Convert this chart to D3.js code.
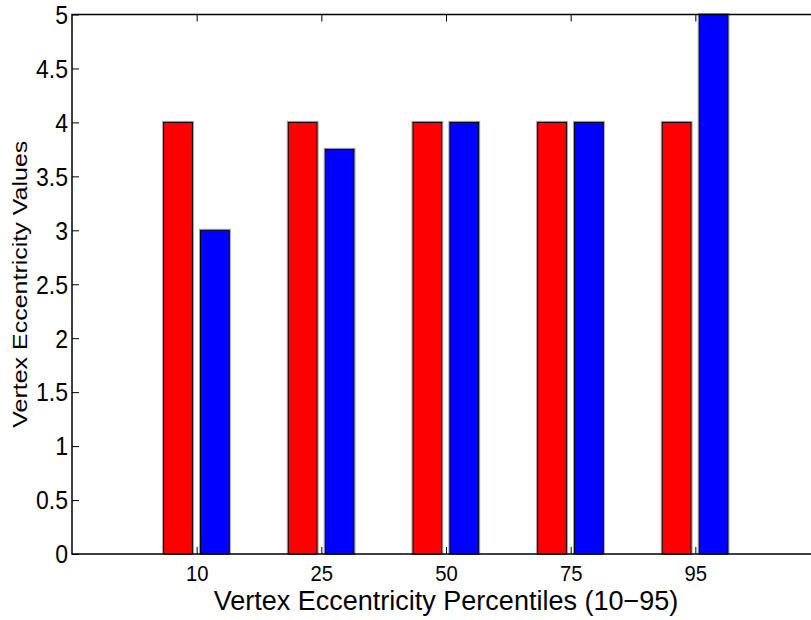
<!DOCTYPE html>
<html>
<head>
<meta charset="utf-8">
<script src="https://cdn.jsdelivr.net/npm/d3@7"></script>
<style>
  html, body { margin: 0; padding: 0; background: #fff; }
  svg { display: block; }
  text { font-family: "Liberation Sans", Arial, Helvetica, sans-serif; fill: #000; }
</style>
</head>
<body>
<svg id="chart" width="811" height="620"></svg>
<script>
// Percentile categories and the two series plotted at each one
const categories = ["10", "25", "50", "75", "95"];
const redValues  = [4, 4, 4, 4, 4];
const blueValues = [3, 3.75, 4, 4, 5];
const yTicks = [0, 0.5, 1, 1.5, 2, 2.5, 3, 3.5, 4, 4.5, 5];
const xTitle = "Vertex Eccentricity Percentiles (10\u221295)";
const yTitle = "Vertex Eccentricity Values";

const svg = d3.select("#chart");
const margin = { left: 72, top: 14.5, right: 820, bottom: 554 };

// Categories sit at positions 1..n on a 0..n+1 axis
const x = d3.scaleLinear().domain([0, categories.length + 1]).range([margin.left, margin.right]);
const y = d3.scaleLinear().domain([0, 5]).range([margin.bottom, margin.top]);
const step = x(1) - x(0);

// Side-by-side bars inside each group
const inner = d3.scaleBand().domain(["red", "blue"])
  .range([-0.265 * step, 0.262 * step]).paddingInner(0.22);

const series = [
  { key: "red", values: redValues, color: "#ff0000" },
  { key: "blue", values: blueValues, color: "#0000ff" }
];

const bars = svg.append("g");
series.forEach(s => {
  const g = bars.append("g");
  // faint grey halo around each bar edge
  g.selectAll("rect.halo").data(s.values).join("rect")
    .attr("class", "halo")
    .attr("x", (d, i) => x(i + 1) + inner(s.key) - 1)
    .attr("y", d => y(d) - 1)
    .attr("width", inner.bandwidth() + 2)
    .attr("height", d => y(0) - y(d) + 1)
    .attr("fill", "none")
    .attr("stroke", "#a0a0a0")
    .attr("stroke-width", 1);
  g.selectAll("rect.bar").data(s.values).join("rect")
    .attr("class", "bar")
    .attr("x", (d, i) => x(i + 1) + inner(s.key))
    .attr("y", d => y(d))
    .attr("width", inner.bandwidth())
    .attr("height", d => y(0) - y(d))
    .attr("fill", s.color)
    .attr("stroke", "#000")
    .attr("stroke-width", 1);
});

const tickLen = 7;
const sx = 0.92;

// Left axis with inward ticks
const yAxis = d3.axisRight(y).tickValues(yTicks).tickSize(tickLen).tickFormat(d3.format("~g"));
const gy = svg.append("g").attr("transform", `translate(${margin.left},0)`).call(yAxis);
gy.select(".domain").remove();
gy.selectAll(".tick line").attr("stroke", "#000");
gy.selectAll(".tick text")
  .attr("x", null).attr("dy", null)
  .attr("text-anchor", "end")
  .attr("dominant-baseline", "central")
  .attr("font-size", 25)
  .attr("transform", `translate(-4,0) scale(${sx},1)`);

// Right-side inward ticks (mirrored)
const gyr = svg.append("g").attr("transform", `translate(${margin.right},0)`)
  .call(d3.axisLeft(y).tickValues(yTicks).tickSize(tickLen).tickFormat(""));
gyr.select(".domain").remove();
gyr.selectAll(".tick line").attr("stroke", "#000");

// Bottom axis with inward ticks
const catPos = categories.map((c, i) => i + 1);
const xAxis = d3.axisTop(x).tickValues(catPos).tickSize(tickLen).tickFormat((d) => categories[d - 1]);
const gx = svg.append("g").attr("transform", `translate(0,${margin.bottom})`).call(xAxis);
gx.select(".domain").remove();
gx.selectAll(".tick line").attr("stroke", "#000");
gx.selectAll(".tick text")
  .attr("y", null).attr("dy", null)
  .attr("text-anchor", "middle")
  .attr("font-size", 22)
  .attr("transform", `translate(0,27) scale(${sx},1)`);

// Top axis ticks (inward, no labels)
const gxt = svg.append("g").attr("transform", `translate(0,${margin.top})`)
  .call(d3.axisBottom(x).tickValues(catPos).tickSize(tickLen).tickFormat(""));
gxt.select(".domain").remove();
gxt.selectAll(".tick line").attr("stroke", "#000");

// Axes box
svg.append("rect")
  .attr("x", margin.left).attr("y", margin.top)
  .attr("width", margin.right - margin.left)
  .attr("height", margin.bottom - margin.top)
  .attr("fill", "none").attr("stroke", "#000").attr("stroke-width", 1.5);

// Axis titles
svg.append("text")
  .attr("transform", `translate(${(margin.left + margin.right) / 2},610)`)
  .attr("text-anchor", "middle")
  .attr("font-size", 27)
  .text(xTitle);

svg.append("text")
  .attr("transform", `translate(27,${(margin.top + margin.bottom) / 2}) scale(0.84,1) rotate(-90)`)
  .attr("text-anchor", "middle")
  .attr("font-size", 25)
  .text(yTitle);
</script>
</body>
</html>
